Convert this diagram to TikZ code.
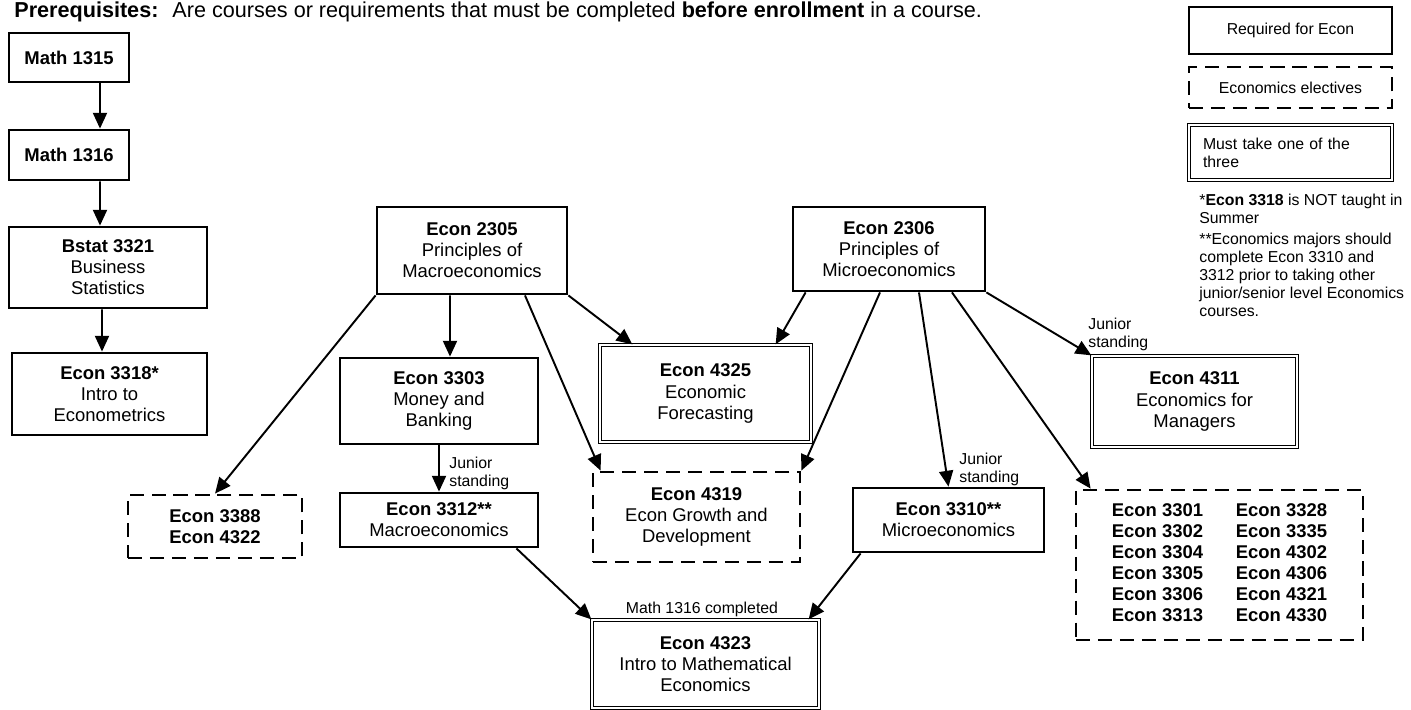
\documentclass[tikz,border=0pt]{standalone}
\usepackage{fontspec}
\setmainfont{Liberation Sans}
\usepackage{tikz}
\usetikzlibrary{arrows.meta}

\begin{document}
\begin{tikzpicture}[x=0.02cm, y=-0.02cm,
  every node/.style={font=\fontsize{10.5}{12}\selectfont, align=center, inner sep=0pt},
  req/.style={draw, line width=1.6pt},
  elec/.style={draw, line width=1.6pt, dash pattern=on 8pt off 4.5pt},
  one/.style={draw, double, line width=0.75pt, double distance=1.2pt},
  sm/.style={font=\fontsize{9}{10.2}\selectfont},
  arr/.style={-{Triangle[length=9pt,width=8pt]}, line width=1.1pt}]
\useasboundingbox (0,0) rectangle (1411,710);

\node[anchor=base west, font=\fontsize{12.3}{14}\selectfont] (head) at (14,17) {\textbf{Prerequisites:}~ Are courses or requirements that must be completed \textbf{before enrollment} in a course.};

\begin{scope}[every node/.append style={req}]
  \node[minimum width=2.4cm, minimum height=0.98cm] (m1315) at (69,57.5) {\textbf{Math 1315}};
  \node[minimum width=2.4cm, minimum height=1cm] (m1316) at (69,155) {\textbf{Math 1316}};
  \node[minimum width=3.96cm, minimum height=1.62cm] (bstat) at (108,267.5) {\textbf{Bstat 3321}\\Business\\Statistics};
  \node[minimum width=3.9cm, minimum height=1.64cm] (e3318) at (109.5,394) {\textbf{Econ 3318*}\\Intro to\\Econometrics};
  \node[minimum width=3.8cm, minimum height=1.74cm] (e2305) at (472,250.5) {\textbf{Econ 2305}\\Principles of\\Macroeconomics};
  \node[minimum width=3.84cm, minimum height=1.68cm] (e2306) at (889,249) {\textbf{Econ 2306}\\Principles of\\Microeconomics};
  \node[minimum width=3.96cm, minimum height=1.72cm] (e3303) at (439,401) {\textbf{Econ 3303}\\Money and\\Banking};
  \node[minimum width=3.96cm, minimum height=1.08cm] (e3312) at (439,520) {\textbf{Econ 3312**}\\Macroeconomics};
  \node[minimum width=3.82cm, minimum height=1.28cm] (e3310) at (948.5,520) {\textbf{Econ 3310**}\\Microeconomics};
\end{scope}

\begin{scope}[every node/.append style={elec}]
  \node[minimum width=3.48cm, minimum height=1.26cm] (e3388) at (215,526.5) {\textbf{Econ 3388}\\\textbf{Econ 4322}};
  \node[minimum width=4.14cm, minimum height=1.8cm] (e4319) at (696.5,517) {\textbf{Econ 4319}\\Econ Growth and\\Development};
  \node[minimum width=5.74cm, minimum height=3cm] (elect) at (1219.5,565) {\bfseries\begin{tabular}{@{}p{2.48cm}@{}l@{}}
    Econ 3301 & Econ 3328\\
    Econ 3302 & Econ 3335\\
    Econ 3304 & Econ 4302\\
    Econ 3305 & Econ 4306\\
    Econ 3306 & Econ 4321\\
    Econ 3313 & Econ 4330
  \end{tabular}};
\end{scope}

\begin{scope}[every node/.append style={one}]
  \node[minimum width=4.22cm, minimum height=1.94cm] (e4325) at (705.5,393.5) {\textbf{Econ 4325}\\Economic\\Forecasting};
  \node[minimum width=4.54cm, minimum height=1.76cm] (e4323) at (705.5,664) {\textbf{Econ 4323}\\Intro to Mathematical\\Economics};
  \node[minimum width=4.1cm, minimum height=1.82cm] (e4311) at (1194.5,401.5) {\textbf{Econ 4311}\\Economics for\\Managers};
\end{scope}

\node[sm, align=left, anchor=west] (js1) at (449,473.5) {Junior\\standing};
\node[sm, align=left, anchor=west] (js2) at (959,469.5) {Junior\\standing};
\node[sm, align=left, anchor=west] (js3) at (1088,334.5) {Junior\\standing};
\node[sm] (mc) at (702,609) {Math 1316 completed};

\draw[arr] ([xshift=0.62cm]m1315.south) -- ([xshift=0.62cm]m1316.north);
\draw[arr] ([xshift=0.62cm]m1316.south) -- ([xshift=-0.16cm]bstat.north);
\draw[arr] ([xshift=-0.12cm]bstat.south) -- ([xshift=-0.15cm]e3318.north);

\draw[arr] (e2305.south west) -- (e3388.north);
\draw[arr] ([xshift=-0.44cm]e2305.south) -- ([xshift=0.22cm]e3303.north);
\draw[arr] ([xshift=1.06cm]e2305.south) -- ([xshift=0.18cm]e4319.north west);
\draw[arr] (e2305.south east) -- ([xshift=0.66cm]e4325.north west);
\draw[arr] (e3303.south) -- (e3312.north);

\draw[arr] ([xshift=0.28cm]e2306.south west) -- ([xshift=-0.72cm]e4325.north east);
\draw[arr] ([xshift=-0.18cm]e2306.south) -- (e4319.north east);
\draw[arr] ([xshift=0.6cm]e2306.south) -- (e3310.north);
\draw[arr] ([xshift=1.26cm]e2306.south) -- ([xshift=0.32cm]elect.north west);
\draw[arr] (e2306.south east) -- (e4311.north west);

\draw[arr] ([xshift=-0.46cm]e3312.south east) -- (e4323.north west);
\draw[arr] ([xshift=0.18cm]e3310.south west) -- ([xshift=-0.22cm]e4323.north east);

\node[req, sm, minimum width=4.06cm, minimum height=0.94cm] (leg1) at (1290.5,30.5) {Required for Econ};
\node[elec, sm, minimum width=4.06cm, minimum height=0.82cm] (leg2) at (1290.5,87.5) {Economics electives};
\node[one, sm, align=left, text width=3.5cm, inner xsep=0.28cm, minimum height=1.1cm] (leg3) at (1290.5,152.5) {Must take one of the\\three};

\node[sm, align=left, anchor=north west] (note1) at (1199,194) {*\textbf{Econ 3318} is NOT taught in\\Summer};
\node[sm, align=left, anchor=north west] (note2) at (1199,233) {**Economics majors should\\complete Econ 3310 and\\3312 prior to taking other\\junior/senior level Economics\\courses.};
\end{tikzpicture}
\end{document}
